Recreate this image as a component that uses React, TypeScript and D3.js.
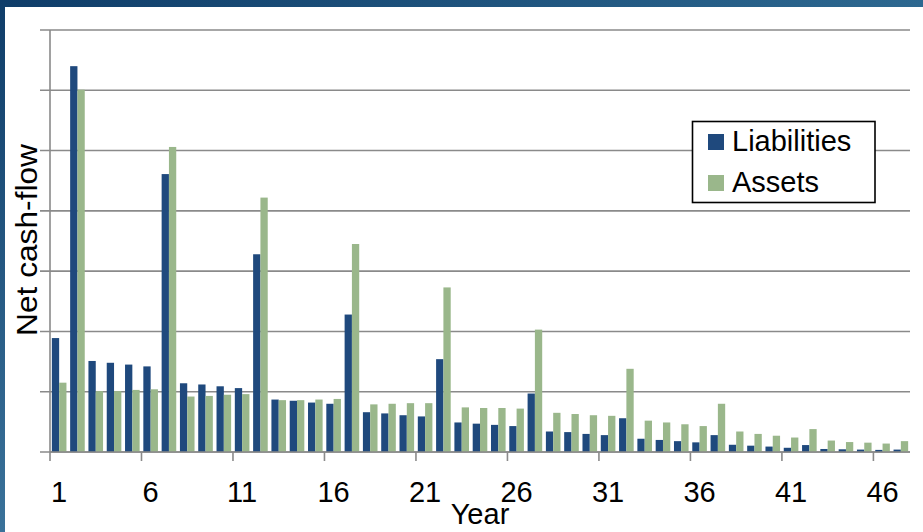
import React from "react";
import * as d3 from "d3";

// Net cash-flow per year for liabilities and assets (gridline = 10 units)
const years: number[] = Array.from({ length: 47 }, (_, i) => i + 1);
const liabilities: number[] = [
  18.9, 64.0, 15.1, 14.8, 14.5, 14.2, 46.1, 11.4, 11.2, 10.9, 10.6, 32.8,
  8.7, 8.5, 8.2, 8.0, 22.8, 6.6, 6.4, 6.1, 5.9, 15.4, 4.9, 4.7, 4.5, 4.3,
  9.7, 3.4, 3.3, 3.0, 2.8, 5.6, 2.2, 2.0, 1.8, 1.6, 2.8, 1.2, 1.05, 0.9,
  0.7, 1.15, 0.5, 0.45, 0.4, 0.35, 0.4,
];
const assets: number[] = [
  11.5, 60.1, 10.1, 10.1, 10.3, 10.4, 50.6, 9.2, 9.3, 9.5, 9.6, 42.2,
  8.6, 8.6, 8.7, 8.8, 34.5, 7.9, 8.0, 8.1, 8.1, 27.3, 7.4, 7.3, 7.3, 7.2,
  20.3, 6.5, 6.3, 6.1, 6.0, 13.8, 5.2, 4.9, 4.6, 4.3, 8.0, 3.4, 3.0, 2.7,
  2.4, 3.8, 1.9, 1.65, 1.55, 1.4, 1.8,
];
const seriesNames: string[] = ["Liabilities", "Assets"];
const seriesColors: string[] = ["#1f497d", "#9ab78b"];
const yTicks: number[] = [0, 10, 20, 30, 40, 50, 60, 70];
const labeledYears: number[] = [1, 6, 11, 16, 21, 26, 31, 36, 41, 46];

const W = 923;
const H = 532;
const FONT = "'Liberation Sans', Arial, sans-serif";

export default function App() {
  const left = 50;
  const right = 910;
  const top = 30;
  const bottom = 452;

  const x0 = d3.scaleBand<number>().domain(years).range([left, right]).padding(0);
  const x1 = d3
    .scaleBand<string>()
    .domain(seriesNames)
    .range([0, x0.bandwidth()])
    .paddingInner(0)
    .paddingOuter(0.253);
  const y = d3.scaleLinear().domain([0, 70]).range([bottom, top]);

  const series = [liabilities, assets];
  const gridColor = "#8a8a8a";

  // tick marks between every fifth year band
  const xTickPositions = labeledYears.map((yr) => x0(yr)!);

  return (
    <svg
      width={W}
      height={H}
      style={{ position: "fixed", left: 0, top: 0, background: "#fff" }}
      fontFamily={FONT}
    >
      <defs>
        <linearGradient id="topBar" x1="0" x2="1" y1="0" y2="0">
          <stop offset="0" stopColor="#0f3d69" />
          <stop offset="1" stopColor="#2d6890" />
        </linearGradient>
        <linearGradient id="leftBar" x1="0" x2="0" y1="0" y2="1">
          <stop offset="0" stopColor="#0f3d69" />
          <stop offset="1" stopColor="#3a729a" />
        </linearGradient>
      </defs>
      <rect x={0} y={0} width={W} height={H} fill="#fff" />
      <rect x={0} y={0} width={W} height={7} fill="url(#topBar)" />
      <rect x={0} y={0} width={5} height={H} fill="url(#leftBar)" />

      {/* horizontal gridlines with short ticks left of the axis */}
      {yTicks.map((t) => (
        <line
          key={t}
          x1={40}
          x2={right}
          y1={y(t)}
          y2={y(t)}
          stroke={gridColor}
          strokeWidth={1.6}
        />
      ))}

      {/* bars */}
      {series.map((vals, si) =>
        vals.map((v, i) => (
          <rect
            key={`${si}-${i}`}
            x={x0(years[i])! + x1(seriesNames[si])!}
            y={y(v)}
            width={x1.bandwidth()}
            height={bottom - y(v)}
            fill={seriesColors[si]}
          />
        ))
      )}

      {/* axes */}
      <line x1={left} x2={left} y1={top} y2={bottom} stroke={gridColor} strokeWidth={1.6} />
      <line x1={left} x2={right} y1={bottom} y2={bottom} stroke={gridColor} strokeWidth={1.6} />
      {xTickPositions.map((px, i) => (
        <line
          key={i}
          x1={px}
          x2={px}
          y1={bottom}
          y2={bottom + 9}
          stroke={gridColor}
          strokeWidth={1.6}
        />
      ))}

      {/* year labels */}
      {labeledYears.map((yr) => (
        <text
          key={yr}
          x={x0(yr)! + x0.bandwidth() / 2}
          y={502}
          fontSize={29}
          textAnchor="middle"
          fill="#000"
        >
          {yr}
        </text>
      ))}
      <text x={(left + right) / 2} y={524} fontSize={29} textAnchor="middle" fill="#000">
        Year
      </text>
      <text
        transform={`translate(37,240) rotate(-90)`}
        fontSize={29}
        textAnchor="middle"
        textLength={192}
        lengthAdjust="spacingAndGlyphs"
        fill="#000"
      >
        Net cash-flow
      </text>

      {/* legend */}
      <g>
        <rect x={692.5} y={121.5} width={182.5} height={81} fill="#fff" stroke="#000" strokeWidth={1.6} />
        {seriesNames.map((name, i) => (
          <g key={name}>
            <rect x={708} y={134 + i * 41} width={16} height={16} fill={seriesColors[i]} />
            <text x={732} y={151 + i * 41} fontSize={29} fill="#000">
              {name}
            </text>
          </g>
        ))}
      </g>
    </svg>
  );
}
